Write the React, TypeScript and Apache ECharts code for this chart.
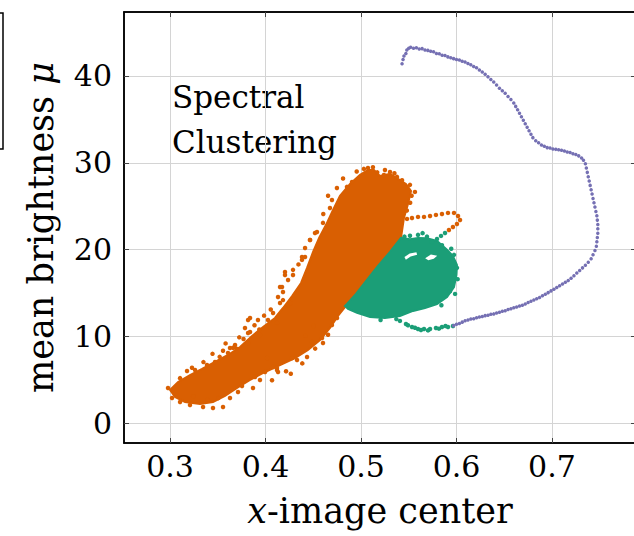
import React, { useEffect, useRef } from "react";
import * as echarts from "echarts";

const ORANGE = "#d95f02";
const GREEN = "#1b9e77";
const PURPLE = "#7570b3";
const FONT = "DejaVu Serif";

const xTicks = [0.3, 0.4, 0.5, 0.6, 0.7];
const yTicks = [0, 10, 20, 30, 40];

// dense orange region (outline vertices)
const orangeCore: number[][] = [
  [0.3, 3.84], [0.3084, 4.76], [0.3209, 5.56], [0.3335, 6.26], [0.3471, 7.06], [0.3607, 7.87],
  [0.3733, 8.79], [0.3859, 10.06], [0.3974, 11.09], [0.4099, 12.13], [0.4183, 13.28], [0.428, 14.67],
  [0.4372, 16.16], [0.4435, 17.89], [0.4498, 19.74], [0.4561, 21.35], [0.4634, 22.86], [0.4707, 24.58],
  [0.478, 26.19], [0.4885, 27.58], [0.499, 28.61], [0.5073, 29.18], [0.5136, 29.18], [0.5199, 28.49],
  [0.5304, 28.72], [0.5387, 28.15], [0.5471, 27.57], [0.5524, 26.76], [0.5492, 25.26], [0.545, 23.65],
  [0.5419, 21.35], [0.5304, 19.74], [0.5178, 18.12], [0.5052, 16.39], [0.4948, 14.9], [0.4874, 13.86],
  [0.4832, 13.39], [0.4759, 12.36], [0.4675, 10.98], [0.4571, 9.6], [0.4445, 8.44], [0.4309, 7.52],
  [0.4152, 6.71], [0.3995, 5.91], [0.3838, 4.99], [0.3702, 4.07], [0.3576, 3.15], [0.345, 2.45],
  [0.3314, 2.22], [0.3157, 2.45], [0.3052, 3.03],
];

// scattered orange points on the fringe and the loop
const orangePoints: number[][] = [
  [0.2979, 4.07], [0.3178, 6.03], [0.3262, 6.14], [0.3387, 6.72], [0.3471, 7.06], [0.3607, 8.1],
  [0.3817, 9.25], [0.3838, 10.52], [0.3817, 11.9], [0.3921, 11.9], [0.4026, 11.9], [0.412, 11.56],
  [0.4079, 12.71], [0.4152, 13.86], [0.4236, 13.63], [0.4079, 6.49], [0.412, 6.14], [0.3942, 4.99],
  [0.3869, 4.07], [0.3712, 3.61], [0.3555, 1.88], [0.345, 1.76], [0.3346, 1.88], [0.3209, 2.11],
  [0.3105, 2.45], [0.3021, 2.91], [0.4016, 7.52], [0.3754, 4.3], [0.3628, 2.91], [0.3695, 8.6],
  [0.3555, 8.35], [0.3935, 10.8], [0.4418, 10.1], [0.4503, 11.2],
  [0.4204, 17.42], [0.4288, 17.08], [0.4152, 15.7], [0.4183, 15.12], [0.4382, 19.15], [0.4414, 20.19],
  [0.4466, 21.11], [0.4518, 21.92], [0.3838, 12.13], [0.3785, 10.98], [0.3817, 10.4], [0.3942, 10.17],
  [0.3681, 9.02], [0.3628, 8.67], [0.412, 6.37], [0.4131, 5.91], [0.4278, 7.52], [0.433, 7.29],
  [0.4435, 7.64], [0.4592, 9.83], [0.4602, 9.25], [0.4696, 11.31], [0.4749, 12.13], [0.4487, 9.36],
  [0.3995, 5.91], [0.389, 5.33], [0.4068, 4.95], [0.4215, 6.0], [0.452, 8.6], [0.4655, 10.2],
  [0.3105, 5.2], [0.323, 6.4], [0.335, 7.05], [0.352, 7.65], [0.366, 8.7], [0.377, 9.7],
  [0.3725, 9.9], [0.3885, 11.3], [0.3985, 12.4], [0.4055, 13.1], [0.4265, 5.7], [0.4385, 6.9],
  [0.3505, 2.9], [0.3395, 2.7], [0.3245, 3.1], [0.3582, 9.2], [0.3445, 8.0],
  [0.5073, 29.41], [0.4906, 27.8], [0.4853, 27.23], [0.4696, 25.72], [0.4675, 24.8], [0.4602, 23.08],
  [0.4539, 22.04], [0.4466, 21.12], [0.4414, 19.16], [0.4382, 18.82], [0.4288, 17.67], [0.4204, 17.08],
  [0.4173, 15.7], [0.4236, 16.51], [0.4131, 14.55], [0.4183, 14.19], [0.4257, 13.86], [0.4345, 18.3],
  [0.4605, 24.1], [0.4655, 26.2], [0.4748, 27.1], [0.4812, 28.2], [0.4955, 29.0], [0.503, 29.3],
  [0.5304, 28.95], [0.5377, 28.38], [0.5513, 27.46], [0.5565, 26.65], [0.5251, 29.18], [0.5125, 29.5],
  [0.517, 28.9], [0.524, 28.6], [0.535, 28.8], [0.543, 28.0], [0.553, 26.2], [0.5515, 25.4], [0.548, 24.5],
  [0.5482, 23.54], [0.5534, 23.65], [0.5597, 23.77], [0.566, 23.77], [0.5723, 23.88], [0.5785, 24.0],
  [0.5848, 24.11], [0.5911, 24.23], [0.5974, 24.23], [0.6016, 23.88], [0.6037, 23.42], [0.6005, 22.96],
  [0.5963, 22.61], [0.5921, 22.26],
];

// dense green region (outline vertices)
const greenCore: number[][] = [
  [0.4853, 13.74], [0.4948, 14.9], [0.5052, 16.39], [0.5178, 18.12], [0.5304, 19.74], [0.5419, 21.35],
  [0.5513, 21.2], [0.5597, 21.35], [0.5691, 21.3], [0.5796, 21.0], [0.5901, 20.0], [0.5963, 19.27],
  [0.6005, 18.24], [0.6, 17.08], [0.5974, 15.7], [0.5901, 14.55], [0.5796, 13.74], [0.567, 13.28],
  [0.5545, 12.94], [0.5408, 12.36], [0.5251, 12.13], [0.5094, 12.25], [0.4958, 12.71], [0.4864, 13.17],
  [0.4832, 13.51],
];

// thin gaps inside the green region
const greenHole1: number[][] = [
  [0.5455, 19.15], [0.551, 19.55], [0.558, 19.7], [0.5588, 19.42], [0.552, 19.2], [0.547, 18.85],
];
const greenHole2: number[][] = [
  [0.5672, 19.0], [0.5732, 19.45], [0.5798, 19.3], [0.5762, 18.95], [0.5705, 18.78],
];

const greenPoints: number[][] = [
  [0.588, 21.92], [0.5838, 21.58], [0.5796, 21.23], [0.5743, 20.89], [0.5513, 21.6], [0.5597, 21.7],
  [0.5691, 21.5], [0.5848, 20.5], [0.5974, 19.4], [0.6005, 17.9], [0.6012, 16.6], [0.5932, 15.2],
  [0.5408, 11.79], [0.5471, 11.44], [0.5534, 11.09], [0.5597, 10.86], [0.566, 10.86], [0.5723, 10.86],
  [0.5785, 10.98], [0.5848, 11.09], [0.5911, 11.09], [0.5963, 11.21], [0.5492, 11.3], [0.5565, 11.0],
  [0.5628, 10.75], [0.5702, 10.7], [0.5816, 10.9], [0.5885, 11.2], [0.537, 12.0], [0.5205, 11.9],
  [0.5455, 21.5], [0.5645, 21.9], [0.5945, 20.1], [0.5985, 14.9], [0.5842, 13.6],
];

const purplePoints: number[][] = [
  [0.543, 41.4], [0.544, 41.9], [0.545, 42.3], [0.547, 42.6], [0.548, 43.0], [0.55, 43.2], [0.552, 43.3],
  [0.555, 43.2], [0.558, 43.25], [0.561, 43.1], [0.564, 43.15], [0.567, 43.0], [0.57, 42.95], [0.573, 42.85],
  [0.576, 42.8], [0.579, 42.6], [0.582, 42.55], [0.585, 42.4], [0.588, 42.35], [0.591, 42.2], [0.594, 42.1],
  [0.597, 42.0], [0.6, 41.9], [0.603, 41.85], [0.606, 41.7], [0.609, 41.6], [0.612, 41.45], [0.615, 41.3],
  [0.618, 41.1], [0.621, 40.95], [0.624, 40.7], [0.627, 40.45], [0.63, 40.2], [0.633, 39.9], [0.636, 39.6],
  [0.639, 39.3], [0.642, 38.95], [0.645, 38.6], [0.648, 38.3], [0.651, 38.0], [0.654, 37.65], [0.657, 37.3],
  [0.66, 36.9], [0.662, 36.5], [0.664, 36.1], [0.666, 35.7], [0.668, 35.3], [0.67, 34.9], [0.672, 34.5],
  [0.674, 34.1], [0.676, 33.7], [0.678, 33.3], [0.68, 32.9], [0.683, 32.55], [0.686, 32.3], [0.689, 32.05],
  [0.692, 31.9], [0.695, 31.75], [0.698, 31.7], [0.701, 31.6], [0.704, 31.55], [0.707, 31.5], [0.71, 31.45],
  [0.713, 31.35], [0.716, 31.25], [0.719, 31.2], [0.722, 31.05], [0.725, 30.95], [0.728, 30.8], [0.731, 30.55],
  [0.733, 30.3], [0.735, 29.9], [0.736, 29.4], [0.737, 28.9], [0.738, 28.4], [0.739, 27.9], [0.74, 27.4],
  [0.741, 26.9], [0.742, 26.4], [0.743, 25.9], [0.744, 25.4], [0.745, 24.9], [0.746, 24.4], [0.747, 23.9],
  [0.7475, 23.4], [0.748, 22.9], [0.748, 22.4], [0.748, 21.9], [0.7475, 21.4], [0.747, 20.9], [0.7465, 20.4],
  [0.745, 19.9], [0.743, 19.4], [0.741, 18.95], [0.738, 18.55], [0.735, 18.2], [0.732, 17.9], [0.729, 17.6],
  [0.726, 17.3], [0.723, 17.0], [0.72, 16.7], [0.717, 16.45], [0.714, 16.25], [0.711, 16.05], [0.708, 15.85],
  [0.705, 15.65], [0.702, 15.45], [0.699, 15.25], [0.696, 15.05], [0.693, 14.85], [0.69, 14.7], [0.687, 14.5],
  [0.684, 14.35], [0.681, 14.2], [0.678, 14.05], [0.675, 13.9], [0.672, 13.75], [0.669, 13.6], [0.666, 13.5],
  [0.663, 13.4], [0.66, 13.3], [0.657, 13.2], [0.654, 13.1], [0.651, 12.95], [0.648, 12.9], [0.645, 12.8],
  [0.642, 12.7], [0.639, 12.6], [0.636, 12.55], [0.633, 12.45], [0.63, 12.4], [0.627, 12.3], [0.624, 12.25],
  [0.621, 12.15], [0.618, 12.05], [0.615, 12.0], [0.612, 11.9], [0.609, 11.8], [0.606, 11.65], [0.603, 11.5],
  [0.6, 11.4], [0.597, 11.25],
];

const X_MIN = 0.2518;
const X_MAX = 0.788;
const Y_MIN = -2.27;
const Y_MAX = 47.37;

function polygonSeries(name: string, pts: number[][], color: string, lw: number) {
  return {
    type: "custom",
    name,
    coordinateSystem: "cartesian2d",
    silent: true,
    data: [pts[0]],
    renderItem: (_p: any, api: any) => ({
      type: "polygon",
      shape: { points: pts.map((p) => api.coord(p)) },
      style: { fill: color, stroke: color, lineWidth: lw },
    }),
  };
}

export default function App() {
  const ref = useRef<HTMLDivElement>(null);
  useEffect(() => {
    if (!ref.current) return;
    const chart = echarts.init(ref.current, undefined, { renderer: "svg" });
    const labelStyle = { fontFamily: FONT, fontSize: 30, color: "#000" };
    const nameStyle = {
      fontFamily: FONT,
      fontSize: 35,
      color: "#000",
      rich: { i: { fontFamily: FONT, fontSize: 35, fontStyle: "italic", color: "#000" } },
    };
    chart.setOption({
      animation: false,
      backgroundColor: "#fff",
      grid: {
        left: 124,
        top: 12,
        width: 512,
        height: 431,
        containLabel: false,
        outerBoundsMode: "none",
        show: true,
        borderColor: "#000",
        borderWidth: 1.5,
        backgroundColor: "transparent",
      },
      xAxis: [
        {
          type: "value",
          min: X_MIN,
          max: X_MAX,
          name: "{i|x}-image center",
          nameLocation: "middle",
          nameGap: 50,
          nameTextStyle: nameStyle,
          axisLine: { show: true, onZero: false, lineStyle: { color: "#000", width: 1.5 } },
          axisTick: { show: true, inside: true, length: 5, customValues: xTicks, lineStyle: { color: "#444" } },
          axisLabel: { ...labelStyle, margin: 8, customValues: xTicks, formatter: (v: number) => v.toFixed(1) },
          splitLine: { show: true, lineStyle: { color: "#d4d4d4", width: 1 } },
        },
        {
          type: "value",
          position: "top",
          min: X_MIN,
          max: X_MAX,
          axisLine: { show: true, onZero: false, lineStyle: { color: "#000", width: 1.5 } },
          axisTick: { show: true, inside: true, length: 5, customValues: xTicks, lineStyle: { color: "#444" } },
          axisLabel: { show: false },
          splitLine: { show: false },
        },
      ],
      yAxis: [
        {
          type: "value",
          min: Y_MIN,
          max: Y_MAX,
          name: "mean brightness {i|μ}",
          nameLocation: "middle",
          nameGap: 66,
          nameTextStyle: nameStyle,
          axisLine: { show: true, onZero: false, lineStyle: { color: "#000", width: 1.5 } },
          axisTick: { show: true, inside: true, length: 5, customValues: yTicks, lineStyle: { color: "#444" } },
          axisLabel: { ...labelStyle, margin: 12, customValues: yTicks, formatter: (v: number) => String(v) },
          splitLine: { show: true, lineStyle: { color: "#d4d4d4", width: 1 } },
        },
        {
          type: "value",
          position: "right",
          min: Y_MIN,
          max: Y_MAX,
          axisLine: { show: true, onZero: false, lineStyle: { color: "#000", width: 1.5 } },
          axisTick: { show: true, inside: true, length: 5, customValues: yTicks, lineStyle: { color: "#444" } },
          axisLabel: { show: false },
          splitLine: { show: false },
        },
      ],
      graphic: [
        {
          type: "rect",
          shape: { x: -20, y: 13, width: 23, height: 136 },
          style: { fill: "none", stroke: "#000", lineWidth: 1.5 },
        },
        {
          type: "text",
          left: 172,
          top: 81,
          style: { text: "Spectral", fontFamily: FONT, fontSize: 31, fill: "#000" },
        },
        {
          type: "text",
          left: 172,
          top: 126,
          style: { text: "Clustering", fontFamily: FONT, fontSize: 31, fill: "#000" },
        },
      ],
      series: [
        polygonSeries("orange core", orangeCore, ORANGE, 2),
        {
          type: "scatter",
          name: "orange",
          data: orangePoints,
          symbolSize: 4.5,
          itemStyle: { color: ORANGE, opacity: 1 },
        },
        polygonSeries("green core", greenCore, GREEN, 2),
        polygonSeries("green gap 1", greenHole1, "#ffffff", 0),
        polygonSeries("green gap 2", greenHole2, "#ffffff", 0),
        {
          type: "scatter",
          name: "green",
          data: greenPoints,
          symbolSize: 4.5,
          itemStyle: { color: GREEN, opacity: 1 },
        },
        {
          type: "scatter",
          name: "purple",
          data: purplePoints,
          symbolSize: 3.5,
          itemStyle: { color: PURPLE, opacity: 1 },
        },
      ],
    });
    return () => chart.dispose();
  }, []);
  return (
    <div
      ref={ref}
      style={{ position: "absolute", left: 0, top: 0, width: 634, height: 536 }}
    />
  );
}
